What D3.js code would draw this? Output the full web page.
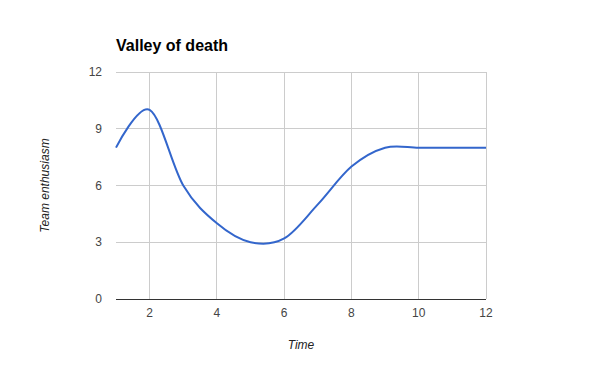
<!DOCTYPE html>
<html>
<head>
<meta charset="utf-8">
<script src="https://cdn.jsdelivr.net/npm/d3@7"></script>
<style>
  body { margin: 0; background: #fff; }
  text { font-family: Arial, "Liberation Sans", sans-serif; }
</style>
</head>
<body>
<svg id="chart" width="600" height="371"></svg>
<script>
// data
var times = [1, 2, 3, 4, 5, 6, 7, 8, 9, 10, 11, 12];
var enthusiasm = [8, 10, 6, 4, 3, 3.2, 5, 7, 8, 8, 8, 8];
var xTicks = [2, 4, 6, 8, 10, 12];
var yTicks = [0, 3, 6, 9, 12];

var svg = d3.select("#chart");
// plot box (note: "top" clashes with window.top)
var plotLeft = 116, plotRight = 486, plotTop = 72, plotBottom = 299;

var x = d3.scaleLinear().domain([1, 12]).range([plotLeft, plotRight]);
var y = d3.scaleLinear().domain([0, 12]).range([plotBottom, plotTop]);

// grid lines
svg.append("g")
    .selectAll("line")
    .data(xTicks)
    .enter()
    .append("line")
    .attr("x1", d => x(d)).attr("x2", d => x(d))
    .attr("y1", plotTop).attr("y2", plotBottom)
    .attr("stroke", "#cccccc")
    .attr("stroke-width", 1)
    .attr("shape-rendering", "crispEdges");

svg.append("g")
    .selectAll("line")
    .data(yTicks.filter(d => d > 0))
    .enter()
    .append("line")
    .attr("x1", plotLeft).attr("x2", plotRight)
    .attr("y1", d => y(d)).attr("y2", d => y(d))
    .attr("stroke", "#cccccc")
    .attr("stroke-width", 1)
    .attr("shape-rendering", "crispEdges");

// baseline
svg.append("line")
    .attr("x1", plotLeft).attr("x2", plotRight)
    .attr("y1", y(0)).attr("y2", y(0))
    .attr("stroke", "#333333")
    .attr("stroke-width", 1)
    .attr("shape-rendering", "crispEdges");

// tick labels
svg.append("g")
    .selectAll("text")
    .data(yTicks)
    .enter()
    .append("text")
    .attr("x", 102)
    .attr("y", d => y(d) + 4)
    .attr("text-anchor", "end")
    .attr("font-size", 12)
    .attr("fill", "#444444")
    .text(d => d);

svg.append("g")
    .selectAll("text")
    .data(xTicks)
    .enter()
    .append("text")
    .attr("x", d => x(d))
    .attr("y", 317)
    .attr("text-anchor", "middle")
    .attr("font-size", 12)
    .attr("fill", "#444444")
    .text(d => d);

// the curve
var line = d3.line()
    .x((d, i) => x(times[i]))
    .y(d => y(d))
    .curve(d3.curveCatmullRom.alpha(0));

svg.append("path")
    .datum(enthusiasm)
    .attr("fill", "none")
    .attr("stroke", "#3366cc")
    .attr("stroke-width", 2)
    .attr("d", line);

// title and axis titles
svg.append("text")
    .attr("x", 116)
    .attr("y", 51)
    .attr("font-size", 16)
    .attr("font-weight", "bold")
    .attr("fill", "#000")
    .text("Valley of death");

svg.append("text")
    .attr("x", (plotLeft + plotRight) / 2)
    .attr("y", 349)
    .attr("text-anchor", "middle")
    .attr("font-size", 12)
    .attr("font-style", "italic")
    .attr("fill", "#222222")
    .text("Time");

svg.append("text")
    .attr("transform", "translate(49," + ((plotTop + plotBottom) / 2) + ") rotate(-90)")
    .attr("text-anchor", "middle")
    .attr("font-size", 12)
    .attr("font-style", "italic")
    .attr("fill", "#222222")
    .text("Team enthusiasm");
</script>
</body>
</html>
